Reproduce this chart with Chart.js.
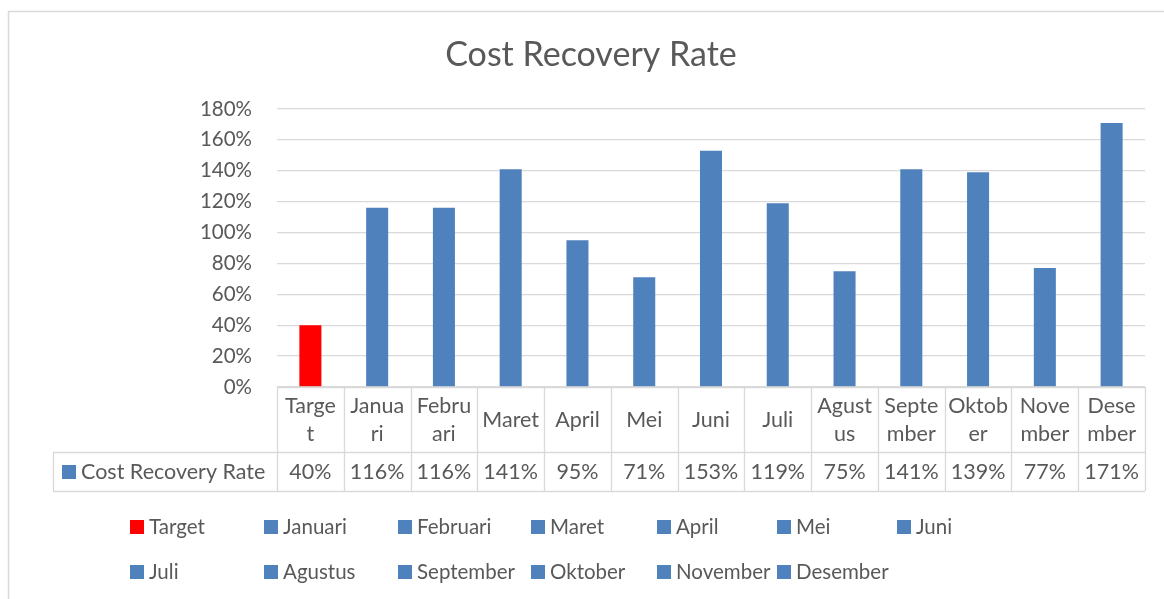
<!DOCTYPE html>
<html>
<head>
<meta charset="utf-8">
<script src="https://cdn.jsdelivr.net/npm/chart.js@4.4.0/dist/chart.umd.min.js"></script>
<style>
  body { margin: 0; background: #fff; }
  canvas { display: block; }
</style>
</head>
<body>
<canvas id="chart" width="1164" height="599"></canvas>
<script>
// data
const categories = ['Target', 'Januari', 'Februari', 'Maret', 'April', 'Mei', 'Juni',
                    'Juli', 'Agustus', 'September', 'Oktober', 'November', 'Desember'];
// wrapped labels as shown in the table header
const categoryLines = [['Targe', 't'], ['Janua', 'ri'], ['Febru', 'ari'], ['Maret'], ['April'],
                       ['Mei'], ['Juni'], ['Juli'], ['Agust', 'us'], ['Septe', 'mber'],
                       ['Oktob', 'er'], ['Nove', 'mber'], ['Dese', 'mber']];
const seriesName = 'Cost Recovery Rate';
const recoveryRate = [40, 116, 116, 141, 95, 71, 153, 119, 75, 141, 139, 77, 171];
const yTicks = [0, 20, 40, 60, 80, 100, 120, 140, 160, 180];

const BLUE = '#4f81bd';
const RED = '#ff0000';
const GRID = '#d9d9d9';
const TEXT = '#595959';
const FONT = 'Lato, "Open Sans", sans-serif';

const barColors = categories.map((c, i) => i === 0 ? RED : BLUE);

// legend columns (Excel packs them a bit unevenly)
const legendCols = [130, 264, 398, 531, 657, 777, 897];
const legendRows = [527, 572];

const extras = {
    id: 'extras',
    beforeDraw(chart) {
        const ctx = chart.ctx;
        ctx.save();
        // outer chart border
        ctx.strokeStyle = GRID;
        ctx.lineWidth = 1.5;
        ctx.strokeRect(8.5, 11.5, 1200, 700);
        // title
        ctx.fillStyle = TEXT;
        ctx.font = '34px ' + FONT;
        ctx.textAlign = 'center';
        ctx.textBaseline = 'middle';
        ctx.fillText(seriesName, 591, 55);
        ctx.restore();
    },
    afterDraw(chart) {
        const ctx = chart.ctx;
        const area = chart.chartArea;
        const n = categories.length;
        const w = (area.right - area.left) / n;
        const headBottom = 452, rowBottom = 491, tableLeft = 53;

        ctx.save();
        ctx.strokeStyle = GRID;
        ctx.lineWidth = 1.3;
        ctx.beginPath();
        ctx.moveTo(area.left, area.bottom + 0.5);
        ctx.lineTo(area.right, area.bottom + 0.5);
        ctx.moveTo(tableLeft, headBottom + 0.5);
        ctx.lineTo(area.right, headBottom + 0.5);
        ctx.moveTo(tableLeft, rowBottom + 0.5);
        ctx.lineTo(area.right, rowBottom + 0.5);
        ctx.moveTo(tableLeft + 0.5, headBottom);
        ctx.lineTo(tableLeft + 0.5, rowBottom);
        for (let i = 0; i <= n; i++) {
            const x = Math.round(area.left + i * w) + 0.5;
            ctx.moveTo(x, area.bottom);
            ctx.lineTo(x, rowBottom);
        }
        ctx.stroke();

        ctx.fillStyle = TEXT;
        ctx.font = '21.5px ' + FONT;
        ctx.textAlign = 'center';
        ctx.textBaseline = 'middle';
        const xs = chart.scales.x;
        categoryLines.forEach((lines, i) => {
            const cx = xs.getPixelForValue(i);
            if (lines.length === 1) {
                ctx.fillText(lines[0], cx, 420);
            } else {
                ctx.fillText(lines[0], cx, 406);
                ctx.fillText(lines[1], cx, 434);
            }
            ctx.fillText(recoveryRate[i] + '%', cx, 472);
        });

        // series key in table
        ctx.fillStyle = BLUE;
        ctx.fillRect(62, 465, 14, 14);
        ctx.fillStyle = TEXT;
        ctx.textAlign = 'left';
        ctx.fillText(seriesName, 81, 472);

        // legend
        ctx.font = '20.5px ' + FONT;
        categories.forEach((name, i) => {
            const col = i < 7 ? i : i - 7;
            const y = legendRows[i < 7 ? 0 : 1];
            const x = legendCols[col];
            ctx.fillStyle = barColors[i];
            ctx.fillRect(x, y - 7, 14, 14);
            ctx.fillStyle = TEXT;
            ctx.fillText(name, x + 19, y);
        });
        ctx.restore();
    }
};

new Chart(document.getElementById('chart'), {
    type: 'bar',
    data: {
        labels: categories,
        datasets: [{
            label: seriesName,
            data: recoveryRate,
            backgroundColor: barColors,
            borderWidth: 0,
            barPercentage: 0.33,
            categoryPercentage: 1.0
        }]
    },
    options: {
        responsive: false,
        animation: false,
        devicePixelRatio: 1,
        layout: { padding: { left: 0, right: 19, top: 109, bottom: 212 } },
        plugins: {
            legend: { display: false },
            title: { display: false },
            tooltip: { enabled: false }
        },
        scales: {
            x: { display: false },
            y: {
                min: 0,
                max: 180,
                afterFit: (scale) => { scale.width = 277; },
                afterBuildTicks: (scale) => { scale.ticks = yTicks.map(v => ({ value: v })); },
                border: { display: false },
                grid: { color: GRID, lineWidth: 1.3, drawTicks: false },
                ticks: {
                    padding: 25,
                    color: TEXT,
                    font: { family: FONT, size: 20.5 },
                    callback: (v) => v + '%'
                }
            }
        }
    },
    plugins: [extras]
});
</script>
</body>
</html>
